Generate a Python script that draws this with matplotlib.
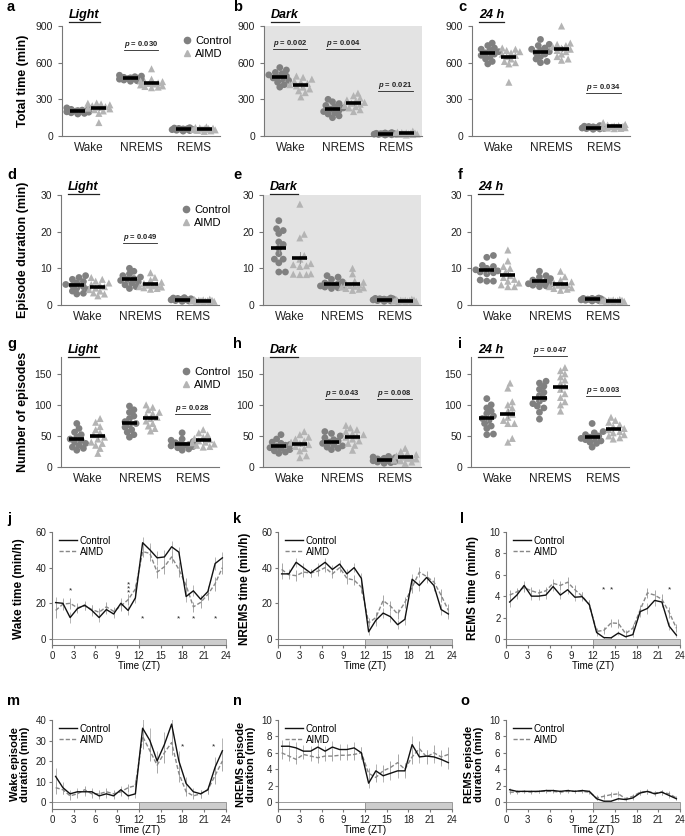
import numpy as np
import matplotlib
matplotlib.use("Agg")
import matplotlib.pyplot as plt
from matplotlib.lines import Line2D
from matplotlib.patches import Rectangle

plt.rcParams['font.family'] = ['Liberation Sans', 'DejaVu Sans']
plt.rcParams['mathtext.fontset'] = 'custom'
plt.rcParams['mathtext.it'] = 'Liberation Sans:italic:bold'
plt.rcParams['mathtext.rm'] = 'Liberation Sans:bold'

# ---------------- data ----------------
categories = ["Wake", "NREMS", "REMS"]
groups = ["Control", "AIMD"]

# a: Light total time (min)
a_wake_ctrl = [180, 185, 190, 195, 198, 200, 203, 205, 208, 212, 218, 225, 230]
a_wake_aimd = [110, 185, 205, 215, 222, 228, 235, 240, 248, 255, 262, 268, 270]
a_nrem_ctrl = [448, 452, 458, 462, 465, 468, 470, 473, 476, 480, 485, 490, 497]
a_nrem_aimd = [395, 400, 405, 410, 418, 425, 430, 435, 440, 445, 450, 465, 550]
a_rem_ctrl = [40, 44, 47, 50, 52, 54, 55, 56, 58, 60, 62, 65, 68]
a_rem_aimd = [38, 42, 46, 50, 53, 55, 57, 60, 62, 64, 67, 70, 75]
# b: Dark total time
b_wake_ctrl = [400, 420, 440, 455, 465, 475, 480, 490, 500, 510, 520, 540, 560]
b_wake_aimd = [320, 355, 370, 385, 400, 410, 420, 430, 440, 450, 465, 480, 490]
b_nrem_ctrl = [150, 165, 180, 190, 200, 210, 220, 230, 240, 250, 265, 280, 300]
b_nrem_aimd = [200, 215, 230, 240, 250, 260, 268, 275, 285, 295, 310, 330, 350]
b_rem_ctrl = [8, 10, 12, 14, 15, 16, 17, 18, 19, 20, 22, 25, 28]
b_rem_aimd = [8, 12, 14, 16, 18, 19, 20, 22, 24, 26, 28, 32, 40]
# c: 24 h total time
c_wake_ctrl = [590, 610, 630, 650, 660, 670, 680, 690, 700, 710, 720, 740, 760]
c_wake_aimd = [440, 590, 600, 610, 630, 650, 660, 670, 680, 690, 700, 710, 720]
c_nrem_ctrl = [600, 610, 630, 650, 670, 680, 690, 700, 710, 720, 740, 750, 790]
c_nrem_aimd = [620, 630, 650, 670, 690, 700, 710, 720, 730, 740, 750, 760, 900]
c_rem_ctrl = [55, 58, 60, 62, 65, 67, 68, 70, 72, 75, 78, 80, 85]
c_rem_aimd = [60, 62, 65, 68, 72, 75, 78, 80, 82, 85, 90, 95, 110]
# d: Light episode duration (min)
d_wake_ctrl = [3.0, 3.2, 3.8, 4.2, 4.6, 5.0, 5.3, 5.6, 6.0, 6.4, 7.0, 7.5, 8.0]
d_wake_aimd = [2.5, 3.0, 3.3, 3.8, 4.2, 4.6, 5.0, 5.3, 5.6, 6.0, 6.5, 7.0, 7.5]
d_nrem_ctrl = [4.5, 5.0, 5.5, 6.0, 6.3, 6.7, 7.0, 7.2, 7.6, 8.0, 8.5, 9.2, 10.0]
d_nrem_aimd = [4.3, 4.5, 4.7, 4.9, 5.0, 5.2, 5.4, 5.6, 5.9, 6.2, 6.8, 7.5, 8.8]
d_rem_ctrl = [1.0, 1.1, 1.2, 1.3, 1.4, 1.4, 1.5, 1.5, 1.6, 1.7, 1.8, 1.9, 2.0]
d_rem_aimd = [0.8, 0.9, 1.0, 1.0, 1.1, 1.1, 1.2, 1.2, 1.3, 1.3, 1.4, 1.5, 1.6]
# e: Dark episode duration
e_wake_ctrl = [9.0, 9.0, 11.5, 12.5, 12.5, 14.0, 15.5, 16.5, 17.2, 19.5, 20.3, 20.8, 23.0]
e_wake_aimd = [8.3, 8.3, 8.4, 8.5, 10.5, 10.7, 11.3, 11.0, 13.5, 12.5, 18.3, 19.3, 27.5]
e_nrem_ctrl = [4.5, 4.7, 4.9, 5.0, 5.2, 5.4, 5.6, 5.8, 6.0, 6.3, 7.0, 7.6, 8.0]
e_nrem_aimd = [4.0, 4.3, 4.5, 4.7, 4.9, 5.1, 5.3, 5.5, 5.8, 6.2, 6.5, 8.5, 10.0]
e_rem_ctrl = [1.0, 1.1, 1.2, 1.3, 1.4, 1.4, 1.5, 1.5, 1.6, 1.7, 1.7, 1.8, 1.9]
e_rem_aimd = [0.7, 0.8, 0.9, 1.0, 1.1, 1.1, 1.2, 1.2, 1.3, 1.3, 1.4, 1.5, 1.6]
# f: 24 h episode duration
f_wake_ctrl = [6.5, 6.5, 6.8, 8.5, 8.8, 9.0, 9.3, 9.6, 10.0, 10.5, 10.8, 13.0, 13.5]
f_wake_aimd = [5.0, 5.0, 5.5, 6.0, 6.5, 7.0, 7.5, 8.0, 9.0, 10.0, 10.5, 12.0, 15.0]
f_nrem_ctrl = [5.0, 5.2, 5.4, 5.6, 5.8, 6.0, 6.3, 6.5, 6.8, 7.2, 7.6, 8.0, 9.2]
f_nrem_aimd = [4.0, 4.3, 4.5, 4.7, 5.0, 5.2, 5.4, 5.6, 6.0, 6.3, 6.8, 7.7, 9.2]
f_rem_ctrl = [1.1, 1.2, 1.3, 1.3, 1.4, 1.5, 1.5, 1.6, 1.6, 1.7, 1.8, 1.8, 1.9]
f_rem_aimd = [0.8, 0.9, 1.0, 1.0, 1.1, 1.1, 1.2, 1.2, 1.3, 1.3, 1.4, 1.4, 1.5]
# g: Light number of episodes
g_wake_ctrl = [27, 30, 32, 35, 38, 40, 43, 45, 48, 52, 56, 62, 70]
g_wake_aimd = [22, 30, 35, 38, 40, 45, 48, 52, 55, 60, 65, 72, 78]
g_nrem_ctrl = [48, 52, 56, 60, 64, 68, 70, 73, 78, 82, 88, 92, 98]
g_nrem_aimd = [58, 62, 66, 70, 74, 78, 80, 83, 86, 88, 92, 96, 100]
g_rem_ctrl = [27, 29, 31, 33, 34, 35, 36, 37, 39, 41, 43, 45, 55]
g_rem_aimd = [32, 33, 35, 37, 39, 40, 42, 44, 46, 48, 52, 55, 60]
# h: Dark number of episodes
h_wake_ctrl = [22, 24, 26, 28, 30, 31, 33, 35, 36, 38, 40, 45, 52]
h_wake_aimd = [15, 18, 26, 30, 33, 36, 38, 40, 42, 45, 48, 52, 57]
h_nrem_ctrl = [28, 30, 32, 34, 36, 38, 40, 42, 44, 47, 50, 54, 57]
h_nrem_aimd = [27, 35, 38, 42, 45, 48, 50, 52, 54, 57, 60, 63, 67]
h_rem_ctrl = [6, 7, 8, 9, 10, 10, 11, 12, 13, 14, 15, 16, 17]
h_rem_aimd = [6, 8, 10, 11, 13, 14, 15, 16, 18, 20, 22, 25, 30]
# i: 24 h number of episodes
i_wake_ctrl = [52, 53, 62, 66, 70, 75, 78, 82, 86, 90, 95, 100, 110]
i_wake_aimd = [40, 46, 70, 70, 75, 80, 85, 90, 95, 100, 105, 127, 135]
i_nrem_ctrl = [77, 88, 95, 98, 102, 106, 110, 115, 120, 125, 130, 135, 138]
i_nrem_aimd = [90, 100, 105, 112, 118, 125, 130, 135, 140, 145, 150, 155, 160]
i_rem_ctrl = [32, 38, 40, 42, 44, 45, 46, 48, 50, 52, 55, 57, 70]
i_rem_aimd = [45, 47, 50, 52, 55, 57, 60, 62, 65, 68, 72, 75, 80]

# time course (ZT hour bins)
zt = [0.5, 1.5, 2.5, 3.5, 4.5, 5.5, 6.5, 7.5, 8.5, 9.5, 10.5, 11.5,
      12.5, 13.5, 14.5, 15.5, 16.5, 17.5, 18.5, 19.5, 20.5, 21.5, 22.5, 23.5]
j_ctrl = [20.4, 20, 12, 17, 19, 16, 12, 16.5, 14, 20, 16, 23,
          54, 50, 45.5, 46, 51.7, 48.7, 23.8, 27, 22.3, 26.6, 42.3, 45.5]
j_aimd = [16, 19.5, 20, 17.5, 18.5, 16.5, 15, 18, 15.5, 18.5, 22, 28,
          49, 48, 37.5, 40.5, 46, 39, 30, 18, 20.5, 25, 31, 40]
j_ctrl_err = [3, 3, 3, 2.5, 2.5, 3, 2.5, 2.5, 2.5, 3, 2.5, 3,
              3, 4, 4, 4, 3, 3, 3, 3, 2.5, 3, 3.5, 3]
j_aimd_err = [4, 3, 3, 2.5, 2.5, 2.5, 2.5, 3, 2.5, 3, 3, 3,
              3, 4, 3.5, 4, 3.5, 4, 4, 3, 3, 3, 4, 3.5]
k_ctrl = [36.5, 36.5, 43, 40, 37, 40, 43, 39, 42, 36.5, 40, 34,
          4, 10.5, 14.5, 12.5, 8, 11, 33.5, 30, 34.5, 30, 16.5, 14]
k_aimd = [39, 36, 35.5, 37.5, 37, 38, 40, 36.5, 40, 34, 33, 29,
          9, 12, 21.5, 18.5, 14, 20.5, 29, 37.5, 35, 32, 24.5, 16]
k_ctrl_err = [3, 2.5, 2.5, 2.5, 2, 2.5, 2.5, 2.5, 2.5, 2.5, 2.5, 3,
              2, 3, 3, 3, 2.5, 3, 3, 3, 3, 3, 3, 3]
k_aimd_err = [3.5, 2.5, 3, 2.5, 2.5, 2.5, 2.5, 2.5, 2.5, 3, 3, 3,
              2.5, 3, 3, 3, 3, 3, 3.5, 3, 3, 3, 3.5, 3.5]
l_ctrl = [3.45, 4.1, 5.0, 4.0, 4.0, 4.1, 4.9, 4.1, 4.6, 3.9, 3.95, 3.2,
          0.6, 0.12, 0.1, 0.55, 0.2, 0.4, 2.55, 2.85, 3.6, 3.45, 1.2, 0.35]
l_aimd = [4.1, 4.4, 4.8, 4.5, 4.3, 4.5, 5.2, 5.0, 5.3, 4.6, 4.0, 3.2,
          0.7, 0.8, 1.5, 1.45, 0.5, 1.0, 2.7, 4.3, 4.1, 3.7, 2.5, 1.0]
l_ctrl_err = [0.5, 0.4, 0.4, 0.4, 0.4, 0.4, 0.4, 0.4, 0.4, 0.4, 0.4, 0.4,
              0.3, 0.1, 0.1, 0.2, 0.1, 0.2, 0.5, 0.5, 0.5, 0.5, 0.4, 0.2]
l_aimd_err = [0.5, 0.4, 0.4, 0.4, 0.4, 0.4, 0.4, 0.4, 0.5, 0.4, 0.4, 0.4,
              0.3, 0.3, 0.4, 0.4, 0.3, 0.4, 0.5, 0.5, 0.5, 0.5, 0.5, 0.4]
m_ctrl = [12.5, 7, 4, 5, 5, 5, 3, 4, 3, 6, 3, 4,
          36, 30, 20, 28, 38, 20, 9, 5, 4, 6, 17, 25]
m_aimd = [7, 6, 3, 4, 6, 4, 4, 5, 4, 5, 7, 8,
          32, 25, 18, 24, 29, 14, 5, 3, 4, 6, 13, 20]
m_ctrl_err = [4, 3, 2, 2, 2, 2, 1.5, 2, 1.5, 2, 1.5, 2,
              6, 6, 5, 6, 7, 5, 3, 2, 2, 2, 5, 6]
m_aimd_err = [3, 2, 2, 2, 2, 2, 2, 2, 2, 2, 2, 3,
              6, 5, 4, 5, 6, 4, 2, 1.5, 2, 2, 4, 5]
n_ctrl = [6.8, 6.8, 6.6, 6.2, 6.2, 6.7, 6.2, 6.7, 6.4, 6.4, 6.6, 6.0,
          2.3, 3.8, 3.2, 3.5, 3.8, 3.8, 7.0, 5.5, 5.6, 5.5, 5.2, 4.8]
n_aimd = [6.0, 5.6, 5.2, 5.8, 5.6, 5.4, 5.6, 5.6, 5.7, 5.7, 5.8, 6.0,
          3.5, 3.0, 3.8, 4.2, 4.8, 4.0, 5.5, 6.5, 5.5, 6.0, 5.5, 5.8]
n_ctrl_err = [0.8, 0.7, 0.7, 0.7, 0.6, 0.7, 0.6, 0.7, 0.7, 0.7, 0.7, 0.7,
              0.6, 0.8, 0.7, 0.8, 0.9, 0.9, 1.0, 0.8, 0.8, 0.8, 0.8, 0.8]
n_aimd_err = [0.8, 0.6, 0.6, 0.6, 0.6, 0.6, 0.6, 0.6, 0.6, 0.6, 0.7, 0.7,
              0.7, 0.6, 0.7, 0.8, 1.0, 0.8, 0.9, 1.0, 0.9, 0.9, 0.9, 0.9]
o_ctrl = [1.5, 1.3, 1.3, 1.3, 1.3, 1.4, 1.4, 1.3, 1.4, 1.3, 1.4, 1.3,
          0.4, 0.1, 0.1, 0.4, 0.3, 0.5, 1.1, 1.3, 1.0, 1.2, 0.8, 0.4]
o_aimd = [1.2, 1.2, 1.3, 1.2, 1.3, 1.3, 1.3, 1.2, 1.3, 1.3, 1.3, 1.2,
          0.5, 0.7, 0.9, 1.0, 0.4, 0.7, 1.2, 1.3, 1.1, 1.2, 1.0, 0.5]
o_ctrl_err = [0.2, 0.2, 0.2, 0.2, 0.2, 0.2, 0.2, 0.2, 0.2, 0.2, 0.2, 0.2,
              0.2, 0.1, 0.1, 0.2, 0.2, 0.2, 0.3, 0.3, 0.3, 0.3, 0.3, 0.2]
o_aimd_err = [0.2, 0.2, 0.2, 0.2, 0.2, 0.2, 0.2, 0.2, 0.2, 0.2, 0.2, 0.2,
              0.3, 0.3, 0.3, 0.3, 0.2, 0.3, 0.3, 0.3, 0.3, 0.3, 0.3, 0.2]

# ---------------- style ----------------
W, H = 685, 836
fig = plt.figure(figsize=(W / 100, H / 100), dpi=100)
C_CTRL = "#808080"
C_AIMD = "#b4b4b4"
C_SPINE = "#777777"
DARK_BG = "#e3e3e3"

underlines = []


def add_axes_px(l, r, t, b):
    return fig.add_axes([l / W, 1 - b / H, (r - l) / W, (b - t) / H])


def style(ax):
    for s in ("top", "right"):
        ax.spines[s].set_visible(False)
    for s in ("left", "bottom"):
        ax.spines[s].set_color(C_SPINE)
        ax.spines[s].set_linewidth(0.8)
    ax.tick_params(colors=C_SPINE, labelcolor="#222222", width=0.8, length=3)


def swarm(vals, px_per_y, px_per_x, diam=5.0, max_px=11.0):
    vals = np.asarray(vals, float)
    ys = vals * px_per_y
    order = np.argsort(vals)
    placed = []
    off = np.zeros(len(vals))
    step = 2.2
    cands = [0.0]
    k = 1
    while k * step <= max_px:
        cands += [k * step, -k * step]
        k += 1
    for i in order:
        y = ys[i]
        best, best_d = 0.0, -1.0
        for c in cands:
            d = min([np.hypot(c - px, y - py) for px, py in placed] + [99.0])
            if d >= diam:
                best = c
                break
            if d > best_d + 0.3:
                best, best_d = c, d
        placed.append((best, y))
        off[i] = best
    return off / px_per_x


def scatter_panel(l, r, t, b, data, ylim, yticks, letter, title, dark=False,
                  ylabel=None, pvals=(), legend=False):
    ax = add_axes_px(l, r, t, b)
    style(ax)
    if dark:
        ax.set_facecolor(DARK_BG)
    ax.set_xlim(-0.5, 2.5)
    ax.set_ylim(*ylim)
    ax.set_yticks(yticks)
    ax.set_xticks(range(3))
    ax.set_xticklabels(categories, fontsize=8.5)
    ax.tick_params(axis="x", length=0, pad=4)
    ax.tick_params(axis="y", labelsize=7.5)
    px_per_y = (b - t) / (ylim[1] - ylim[0])
    px_per_x = (r - l) / 3.0
    for ci, (ctrl, aimd) in enumerate(data):
        for gi, (vals, col, mk) in enumerate([(ctrl, C_CTRL, "o"), (aimd, C_AIMD, "^")]):
            x0 = ci + (-0.2 if gi == 0 else 0.2)
            off = swarm(vals, px_per_y, px_per_x)
            ax.scatter(x0 + off, vals, s=24 if mk == "o" else 26, marker=mk, color=col,
                       edgecolors="none", zorder=2, clip_on=False)
            m = np.mean(vals)
            se = np.std(vals, ddof=1) / np.sqrt(len(vals))
            ax.plot([x0, x0], [m - se, m + se], color="#999999", lw=0.7, zorder=3)
            ax.plot([x0 - 0.14, x0 + 0.14], [m, m], color="black", lw=2.6,
                    solid_capstyle="butt", zorder=4)
    for (ci, yv, txt) in pvals:
        tt = ax.text(ci, yv, r"$\it{p}$ = " + txt, fontsize=5.5, fontweight="bold",
                     ha="center", va="bottom", color="#222222")
        underlines.append((tt, 0.6, 0))
    if ylabel:
        ax.set_ylabel(ylabel, fontsize=9, fontweight="bold")
        ax.yaxis.set_label_coords((29 - l) / (r - l), 0.5)
    fig.text(letter[1] / W, 1 - letter[2] / H, letter[0], fontsize=10.5,
             fontweight="bold", ha="left", va="center")
    tt = fig.text((l + 7) / W, 1 - title[1] / H, title[0], fontsize=9,
                  fontweight="bold", style="italic", ha="left", va="center")
    underlines.append((tt, 0.9, 1))
    if legend:
        hs = [Line2D([], [], ls="none", marker="o", color=C_CTRL, ms=4.5),
              Line2D([], [], ls="none", marker="^", color=C_AIMD, ms=4.5)]
        ax.legend(hs, groups, loc="upper right", bbox_to_anchor=(1.1, 0.95), frameon=False,
                  fontsize=8, handletextpad=0.1, borderaxespad=0, labelspacing=0.25,
                  handlelength=1.2)
    return ax


def time_panel(l, r, t, b, ctrl, aimd, cerr, aerr, ylim, yticks, letter, ylabel, stars=()):
    ax = add_axes_px(l, r, t, b)
    style(ax)
    ax.set_xlim(0, 24)
    ax.set_ylim(*ylim)
    ax.set_yticks(yticks)
    ax.set_xticks(range(0, 25, 3))
    ax.tick_params(labelsize=7, length=2.5, pad=1.5)
    ax.add_patch(Rectangle((0, ylim[0]), 12, -ylim[0], facecolor="white",
                           edgecolor="#999999", lw=0.7, zorder=1, clip_on=False))
    ax.add_patch(Rectangle((12, ylim[0]), 12, -ylim[0], facecolor="#cdcdcd",
                           edgecolor="#999999", lw=0.7, zorder=1, clip_on=False))
    ax.errorbar(zt, aimd, yerr=aerr, color="#999999", ls="none", lw=0.6, zorder=2)
    ax.errorbar(zt, ctrl, yerr=cerr, color="#aaaaaa", ls="none", lw=0.6, zorder=2)
    ax.plot(zt, ctrl, color="#111111", lw=1.0, label="Control", zorder=4)
    ax.plot(zt, aimd, color="#888888", lw=1.0, ls=(0, (3, 1.5)), label="AIMD", zorder=3)
    ax.legend(loc="upper left", bbox_to_anchor=(0.02, 1.0), frameon=False, fontsize=7,
              handlelength=1.8, handletextpad=0.3, labelspacing=0.1, borderaxespad=0)
    ax.set_xlabel("Time (ZT)", fontsize=7, labelpad=0.5)
    if "\n" in ylabel:
        ax.set_ylabel(ylabel, fontsize=8, fontweight="bold", linespacing=1.0)
        lab_x = l - 22
    else:
        ax.set_ylabel(ylabel, fontsize=8.5, fontweight="bold")
        lab_x = l - 27
    ax.yaxis.set_label_coords((lab_x - l) / (r - l), 0.5)
    for (x, y, s) in stars:
        ax.text(x, y, s, fontsize=6, ha="center", va="center", color="#222222",
                linespacing=0.45)
    fig.text(letter[1] / W, 1 - letter[2] / H, letter[0], fontsize=10.5,
             fontweight="bold", ha="left", va="center")
    return ax


# ---------------- row 1 ----------------
R1 = (26, 136)
scatter_panel(62, 220, *R1,
              [(a_wake_ctrl, a_wake_aimd), (a_nrem_ctrl, a_nrem_aimd), (a_rem_ctrl, a_rem_aimd)],
              (0, 900), [0, 300, 600, 900], ("a", 7, 7), ("Light", 15),
              ylabel="Total time (min)", pvals=[(1, 705, "0.030")], legend=True)
scatter_panel(264, 422, *R1,
              [(b_wake_ctrl, b_wake_aimd), (b_nrem_ctrl, b_nrem_aimd), (b_rem_ctrl, b_rem_aimd)],
              (0, 900), [0, 300, 600, 900], ("b", 233, 7), ("Dark", 15), dark=True,
              pvals=[(0, 710, "0.002"), (1, 710, "0.004"), (2, 365, "0.021")])
scatter_panel(472, 630, *R1,
              [(c_wake_ctrl, c_wake_aimd), (c_nrem_ctrl, c_nrem_aimd), (c_rem_ctrl, c_rem_aimd)],
              (0, 900), [0, 300, 600, 900], ("c", 458, 7), ("24 h", 15),
              pvals=[(2, 355, "0.034")])
# ---------------- row 2 ----------------
R2 = (195, 305)
scatter_panel(61, 219, *R2,
              [(d_wake_ctrl, d_wake_aimd), (d_nrem_ctrl, d_nrem_aimd), (d_rem_ctrl, d_rem_aimd)],
              (0, 30), [0, 10, 20, 30], ("d", 7, 175), ("Light", 187),
              ylabel="Episode duration (min)", pvals=[(1, 16.8, "0.049")], legend=True)
scatter_panel(263, 421, *R2,
              [(e_wake_ctrl, e_wake_aimd), (e_nrem_ctrl, e_nrem_aimd), (e_rem_ctrl, e_rem_aimd)],
              (0, 30), [0, 10, 20, 30], ("e", 233, 175), ("Dark", 187), dark=True)
scatter_panel(471, 629, *R2,
              [(f_wake_ctrl, f_wake_aimd), (f_nrem_ctrl, f_nrem_aimd), (f_rem_ctrl, f_rem_aimd)],
              (0, 30), [0, 10, 20, 30], ("f", 458, 175), ("24 h", 187))
# ---------------- row 3 ----------------
R3 = (357, 467)
scatter_panel(61, 219, *R3,
              [(g_wake_ctrl, g_wake_aimd), (g_nrem_ctrl, g_nrem_aimd), (g_rem_ctrl, g_rem_aimd)],
              (0, 177), [0, 50, 100, 150], ("g", 7, 344), ("Light", 350),
              ylabel="Number of episodes", pvals=[(2, 86, "0.028")], legend=True)
scatter_panel(263, 421, *R3,
              [(h_wake_ctrl, h_wake_aimd), (h_nrem_ctrl, h_nrem_aimd), (h_rem_ctrl, h_rem_aimd)],
              (0, 177), [0, 50, 100, 150], ("h", 233, 344), ("Dark", 350), dark=True,
              pvals=[(1, 109, "0.043"), (2, 109, "0.008")])
scatter_panel(471, 629, *R3,
              [(i_wake_ctrl, i_wake_aimd), (i_nrem_ctrl, i_nrem_aimd), (i_rem_ctrl, i_rem_aimd)],
              (0, 177), [0, 50, 100, 150], ("i", 458, 344), ("24 h", 350),
              pvals=[(1, 178, "0.047"), (2, 114, "0.003")])
# ---------------- row 4 ----------------
R4 = (532, 645)
time_panel(52, 226, *R4, j_ctrl, j_aimd, j_ctrl_err, j_aimd_err, (-3.4, 60), [0, 20, 40, 60],
           ("j", 7, 519), "Wake time (min/h)",
           stars=[(2.5, 27, "*"), (10.5, 28, "*\n*\n*"), (12.5, 11, "*"), (17.5, 11, "*"),
                  (19.5, 11, "*"), (22.5, 11, "*")])
time_panel(278, 452, *R4, k_ctrl, k_aimd, k_ctrl_err, k_aimd_err, (-3.4, 60), [0, 20, 40, 60],
           ("k", 233, 519), "NREMS time (min/h)")
time_panel(506, 680, *R4, l_ctrl, l_aimd, l_ctrl_err, l_aimd_err, (-0.57, 10),
           [0, 2, 4, 6, 8, 10], ("l", 460, 519), "REMS time (min/h)",
           stars=[(13.5, 4.6, "*"), (14.5, 4.6, "*"), (22.5, 4.6, "*")])
# ---------------- row 5 ----------------
R5 = (720, 809)
time_panel(52, 226, *R5, m_ctrl, m_aimd, m_ctrl_err, m_aimd_err, (-3.4, 40), [0, 10, 20, 30, 40],
           ("m", 7, 701), "Wake episode\nduration (min)",
           stars=[(18, 27, "*"), (22.3, 27, "*")])
time_panel(278, 452, *R5, n_ctrl, n_aimd, n_ctrl_err, n_aimd_err, (-0.85, 10),
           [0, 2, 4, 6, 8, 10], ("n", 233, 701), "NREMS episode\nduration (min)")
time_panel(506, 680, *R5, o_ctrl, o_aimd, o_ctrl_err, o_aimd_err, (-0.85, 10),
           [0, 2, 4, 6, 8, 10], ("o", 460, 701), "REMS episode\nduration (min)")

# underline texts
fig.canvas.draw()
rend = fig.canvas.get_renderer()
for tt, lw, pad in underlines:
    bb = tt.get_window_extent(renderer=rend)
    y = bb.y0 - pad
    fig.add_artist(Line2D([bb.x0 / W, bb.x1 / W], [y / H, y / H],
                          transform=fig.transFigure, color="#222222", lw=lw))

fig.savefig("out.png", dpi=100)
